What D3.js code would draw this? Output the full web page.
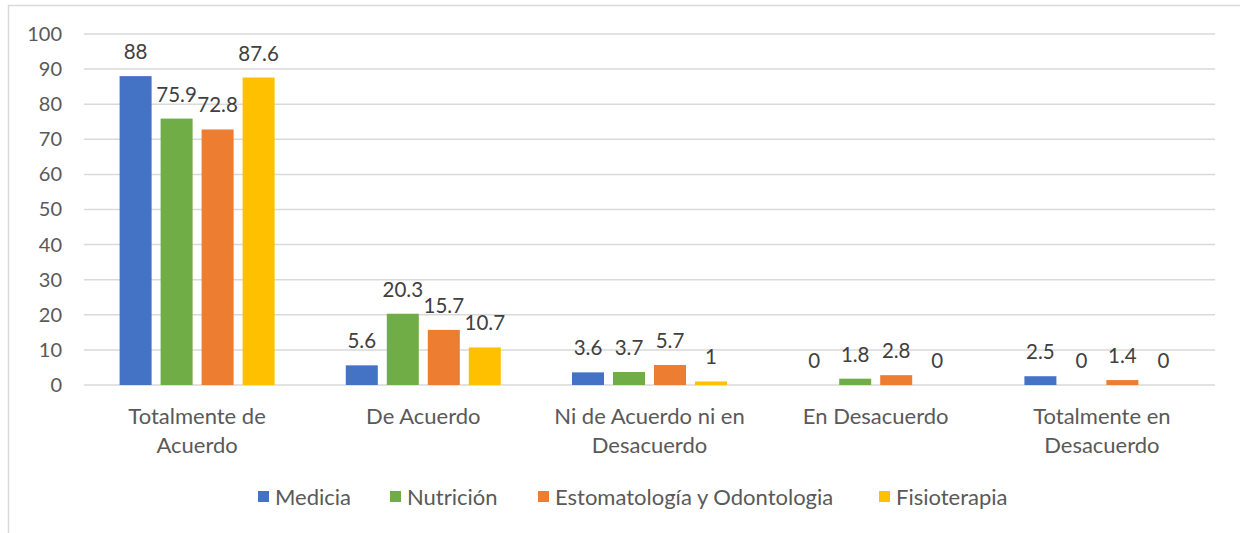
<!DOCTYPE html>
<html>
<head>
<meta charset="utf-8">
<script src="https://cdn.jsdelivr.net/npm/d3@7"></script>
<style>
  html, body { margin: 0; padding: 0; background: #fff; }
  svg text { font-family: Lato, "Open Sans", sans-serif; }
</style>
</head>
<body>
<svg id="chart" width="1240" height="533"></svg>
<script>
const categories = [
  ["Totalmente de", "Acuerdo"],
  ["De Acuerdo"],
  ["Ni de Acuerdo ni en", "Desacuerdo"],
  ["En Desacuerdo"],
  ["Totalmente en", "Desacuerdo"]
];
const seriesNames = ["Medicia", "Nutrición", "Estomatología y Odontologia", "Fisioterapia"];
const medicia = [88, 5.6, 3.6, 0, 2.5];
const nutricion = [75.9, 20.3, 3.7, 1.8, 0];
const estomatologia = [72.8, 15.7, 5.7, 2.8, 1.4];
const fisioterapia = [87.6, 10.7, 1, 0, 0];
const yTicks = [0, 10, 20, 30, 40, 50, 60, 70, 80, 90, 100];
const colors = ["#4472C4", "#70AD47", "#ED7D31", "#FFC000"];

const seriesValues = [medicia, nutricion, estomatologia, fisioterapia];
const catKeys = categories.map(c => c.join(" "));

const svg = d3.select("#chart");

// outer chart border
svg.append("path")
  .attr("d", "M8.5,533 V5.5 H1240")
  .attr("fill", "none").attr("stroke", "#d9d9d9").attr("stroke-width", 1.5);

const plot = { left: 84, right: 1215, top: 34, bottom: 385 };

const y = d3.scaleLinear().domain([0, 100]).range([plot.bottom, plot.top]);
const x0 = d3.scaleBand().domain(catKeys).range([plot.left, plot.right]).padding(0);
const groupFrac = 155 / 226.2;
const groupW = x0.bandwidth() * groupFrac;
const groupOff = (x0.bandwidth() - groupW) / 2;
const x1 = d3.scaleBand().domain(seriesNames).range([groupOff, groupOff + groupW])
  .paddingInner(9 / 41).paddingOuter(0);

// gridlines
svg.append("g").selectAll("line").data(yTicks).join("line")
  .attr("x1", plot.left).attr("x2", plot.right)
  .attr("y1", d => y(d)).attr("y2", d => y(d))
  .attr("stroke", "#d9d9d9").attr("stroke-width", 1.5);

// y axis labels
const yAxis = d3.axisLeft(y).tickValues(yTicks).tickSize(0).tickPadding(0);
const yg = svg.append("g").attr("transform", `translate(62,0)`).call(yAxis);
yg.select(".domain").remove();
yg.selectAll("text").attr("fill", "#595959").style("font-size", "20px")
  .style("font-family", "Lato, 'Open Sans', sans-serif");

// bars
const groups = svg.append("g").selectAll("g").data(catKeys).join("g")
  .attr("transform", d => `translate(${x0(d)},0)`);

groups.each(function(cat, ci) {
  const g = d3.select(this);
  const data = seriesNames.map((s, si) => ({ s, si, v: seriesValues[si][ci] }));
  g.selectAll("rect").data(data).join("rect")
    .attr("x", d => x1(d.s)).attr("width", x1.bandwidth())
    .attr("y", d => y(d.v)).attr("height", d => y(0) - y(d.v))
    .attr("fill", d => colors[d.si]);
  g.selectAll("text.lbl").data(data).join("text")
    .attr("class", "lbl")
    .attr("x", d => x1(d.s) + x1.bandwidth() / 2)
    .attr("y", d => y(d.v) - 17)
    .attr("text-anchor", "middle")
    .attr("fill", "#404040")
    .style("font-size", "20.5px")
    .text(d => d.v);
});

// category labels
const xg = svg.append("g");
categories.forEach((lines, ci) => {
  const t = xg.append("text")
    .attr("x", x0(catKeys[ci]) + x0.bandwidth() / 2)
    .attr("y", 424)
    .attr("text-anchor", "middle")
    .attr("fill", "#595959")
    .style("font-size", "22px");
  lines.forEach((ln, li) => {
    t.append("tspan").attr("x", x0(catKeys[ci]) + x0.bandwidth() / 2)
      .attr("dy", li === 0 ? 0 : 28.5).text(ln);
  });
});

// legend
const legendX = [258, 390, 538, 879];
const leg = svg.append("g");
seriesNames.forEach((s, i) => {
  leg.append("rect").attr("x", legendX[i]).attr("y", 491).attr("width", 11).attr("height", 11)
    .attr("fill", colors[i]);
  leg.append("text").attr("x", legendX[i] + 17).attr("y", 504.5)
    .attr("fill", "#595959").style("font-size", "22px").text(s);
});
</script>
</body>
</html>
